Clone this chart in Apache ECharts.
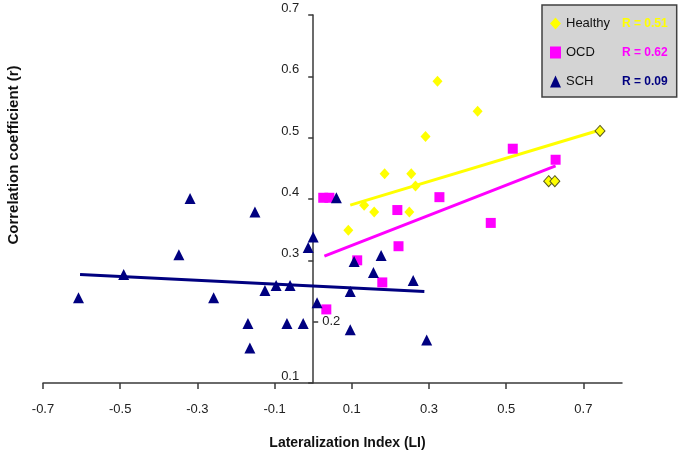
<!DOCTYPE html>
<html>
<head>
<meta charset="utf-8">
<script src="https://cdn.jsdelivr.net/npm/echarts@6/dist/echarts.min.js"></script>
<style>
  html, body { margin: 0; padding: 0; background: #fff; }
  #chart { width: 684px; height: 456px; }
</style>
</head>
<body>
<div id="chart"></div>
<script>
// group names and the R shown in the legend box
var groupNames = ['Healthy', 'OCD', 'SCH'];
var rValues = ['0.51', '0.62', '0.09'];

// [LI, r]
var healthyPts = [
    [0.091, 0.349], [0.132, 0.390], [0.158, 0.379], [0.185, 0.441], [0.254, 0.441],
    [0.249, 0.379], [0.265, 0.421], [0.291, 0.502], [0.322, 0.592], [0.426, 0.543],
    [0.610, 0.429], [0.626, 0.429], [0.743, 0.511]
];
var ocdPts = [
    [0.026, 0.402], [0.042, 0.402], [0.034, 0.220], [0.114, 0.300], [0.179, 0.264],
    [0.218, 0.382], [0.221, 0.323], [0.327, 0.403], [0.460, 0.361], [0.517, 0.482],
    [0.628, 0.464]
];
var schPts = [
    [-0.608, 0.239], [-0.491, 0.277], [-0.348, 0.309], [-0.319, 0.401], [-0.258, 0.239],
    [-0.151, 0.379], [-0.169, 0.197], [-0.164, 0.157], [-0.125, 0.251], [-0.096, 0.259],
    [-0.060, 0.259], [-0.068, 0.197], [-0.026, 0.197], [-0.013, 0.321], [0.000, 0.338],
    [0.010, 0.231], [0.060, 0.402], [0.096, 0.249], [0.096, 0.187], [0.106, 0.298],
    [0.156, 0.280], [0.176, 0.308], [0.259, 0.267], [0.294, 0.170]
];

// trend line end points
var healthyFit = [[0.096, 0.390], [0.745, 0.513]];
var ocdFit = [[0.029, 0.307], [0.628, 0.454]];
var schFit = [[-0.604, 0.277], [0.288, 0.249]];

// axis ticks
var xTicks = [-0.7, -0.5, -0.3, -0.1, 0.1, 0.3, 0.5, 0.7];
var yTicks = [0.1, 0.3, 0.4, 0.5, 0.6, 0.7];
var yTicksInside = [0.2];

var xMin = -0.7, xMax = 0.8;
var gridLeft = 43, gridRight = 62;
var gridWidth = 684 - gridLeft - gridRight;
// y axis crosses at LI = 0
var yAxisShift = -gridWidth * (0 - xMin) / (xMax - xMin);

var axisColor = '#3a3a3a';
var font = 'Liberation Sans';

var chart = echarts.init(document.getElementById('chart'));

var fmt = function (v) { return (+v).toFixed(1); };

// the right three diamonds have a dark outline in the original
var healthyData = healthyPts.map(function (p) {
    if (p[0] > 0.6) {
        return { value: p, itemStyle: { borderColor: '#5a5a20', borderWidth: 1 } };
    }
    return p;
});

chart.setOption({
    backgroundColor: '#ffffff',
    animation: false,
    grid: {
        left: gridLeft,
        right: gridRight,
        top: 15,
        bottom: 73,
        outerBoundsMode: 'none'
    },
    legend: {
        data: groupNames,
        orient: 'vertical',
        left: 542,
        top: 5,
        padding: [12, 9, 9, 8],
        itemWidth: 11,
        itemHeight: 12,
        itemGap: 16,
        backgroundColor: '#d4d4d4',
        borderColor: '#404040',
        borderWidth: 1.5,
        borderRadius: 0,
        selectedMode: false,
        formatter: function (name) {
            var i = groupNames.indexOf(name);
            return '{n|' + name + '}{' + ['h', 'o', 's'][i] + '|R = ' + rValues[i] + '}';
        },
        textStyle: {
            fontFamily: font,
            rich: {
                n: { width: 56, fontSize: 13, color: '#111', fontFamily: font, lineHeight: 14 },
                h: { color: '#ffff00', fontWeight: 'bold', fontSize: 12, fontFamily: font, lineHeight: 14 },
                o: { color: '#ff00ff', fontWeight: 'bold', fontSize: 12, fontFamily: font, lineHeight: 14 },
                s: { color: '#000080', fontWeight: 'bold', fontSize: 12, fontFamily: font, lineHeight: 14 }
            }
        }
    },
    xAxis: {
        type: 'value',
        min: xMin,
        max: xMax,
        splitLine: { show: false },
        axisLine: { onZero: false, lineStyle: { color: axisColor, width: 1.5 } },
        axisTick: { customValues: xTicks, length: 6, lineStyle: { color: axisColor, width: 1.5 } },
        axisLabel: {
            customValues: xTicks,
            formatter: fmt,
            margin: 20,
            fontSize: 13,
            color: '#222',
            fontFamily: font
        },
        name: 'Lateralization Index (LI)',
        nameLocation: 'middle',
        nameGap: 53,
        nameTextStyle: { fontWeight: 'bold', fontSize: 14, color: '#111', fontFamily: font, padding: [0, 0, 0, 30] }
    },
    yAxis: [{
        type: 'value',
        min: 0.1,
        max: 0.7,
        position: 'left',
        offset: yAxisShift,
        splitLine: { show: false },
        axisLine: { onZero: false, lineStyle: { color: axisColor, width: 1.5 } },
        axisTick: { customValues: yTicks, length: 5, lineStyle: { color: axisColor, width: 1.5 } },
        axisLabel: {
            customValues: yTicks,
            formatter: fmt,
            margin: 14,
            fontSize: 13,
            color: '#222',
            fontFamily: font,
            verticalAlign: 'bottom',
            padding: [0, 0, 0, 0]
        },
        name: 'Correlation coefficient (r)',
        nameLocation: 'middle',
        nameGap: 292,
        nameTextStyle: { fontWeight: 'bold', fontSize: 15, color: '#111', fontFamily: font, padding: [0, 0, 0, 88] }
    }, {
        // the 0.2 label sits on the right side of the axis in the original
        type: 'value',
        min: 0.1,
        max: 0.7,
        position: 'left',
        offset: yAxisShift,
        splitLine: { show: false },
        axisLine: { show: false, onZero: false },
        axisTick: { inside: true, customValues: yTicksInside, length: 5, lineStyle: { color: axisColor, width: 1.5 } },
        axisLabel: {
            inside: true,
            customValues: yTicksInside,
            formatter: fmt,
            margin: 9,
            fontSize: 13,
            color: '#222',
            fontFamily: font,
            padding: [6, 0, 0, 0]
        }
    }],
    series: [
        {
            name: 'Healthy fit',
            type: 'line',
            data: healthyFit,
            showSymbol: false,
            lineStyle: { color: '#ffff00', width: 3 },
            z: 3
        },
        {
            name: 'OCD fit',
            type: 'line',
            data: ocdFit,
            showSymbol: false,
            lineStyle: { color: '#ff00ff', width: 3 },
            z: 3
        },
        {
            name: 'SCH fit',
            type: 'line',
            data: schFit,
            showSymbol: false,
            lineStyle: { color: '#000080', width: 3 },
            z: 3
        },
        {
            name: 'Healthy',
            type: 'scatter',
            symbol: 'diamond',
            symbolSize: [10, 11],
            itemStyle: { color: '#ffff00', opacity: 1 },
            data: healthyData,
            z: 4
        },
        {
            name: 'OCD',
            type: 'scatter',
            symbol: 'rect',
            symbolSize: 10,
            itemStyle: { color: '#ff00ff', opacity: 1 },
            data: ocdPts,
            z: 4
        },
        {
            name: 'SCH',
            type: 'scatter',
            symbol: 'triangle',
            symbolSize: 11,
            itemStyle: { color: '#000080', opacity: 1 },
            data: schPts,
            z: 5
        }
    ]
});
</script>
</body>
</html>
